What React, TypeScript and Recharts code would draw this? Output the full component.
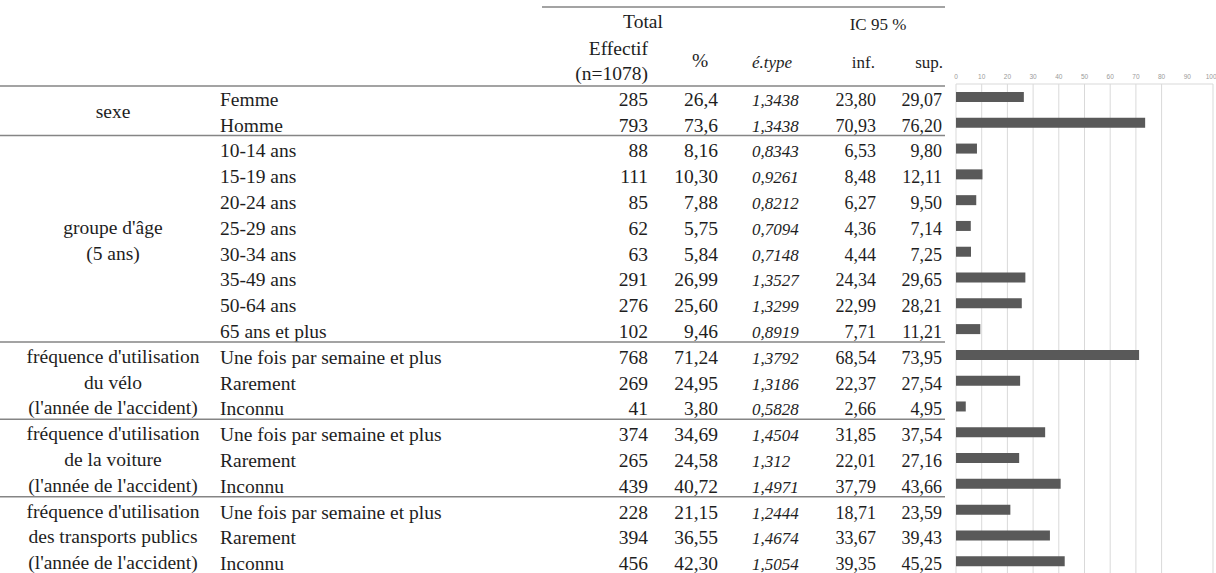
import React from 'react';
import { BarChart, Bar, XAxis, YAxis, CartesianGrid } from 'recharts';

// row labels (second column)
const rowLabels = [
  'Femme', 'Homme',
  '10-14 ans', '15-19 ans', '20-24 ans', '25-29 ans', '30-34 ans', '35-49 ans', '50-64 ans', '65 ans et plus',
  'Une fois par semaine et plus', 'Rarement', 'Inconnu',
  'Une fois par semaine et plus', 'Rarement', 'Inconnu',
  'Une fois par semaine et plus', 'Rarement', 'Inconnu',
];

// groups: label lines + number of rows
const groupLines = [
  ['sexe'],
  ["groupe d'âge", '(5 ans)'],
  ["fréquence d'utilisation", 'du vélo', "(l'année de l'accident)"],
  ["fréquence d'utilisation", 'de la voiture', "(l'année de l'accident)"],
  ["fréquence d'utilisation", 'des transports publics', "(l'année de l'accident)"],
];
const groupSizes = [2, 8, 3, 3, 3];

const effectifs = [285, 793, 88, 111, 85, 62, 63, 291, 276, 102, 768, 269, 41, 374, 265, 439, 228, 394, 456];
const pourcentages = ['26,4', '73,6', '8,16', '10,30', '7,88', '5,75', '5,84', '26,99', '25,60', '9,46', '71,24', '24,95', '3,80', '34,69', '24,58', '40,72', '21,15', '36,55', '42,30'];
const ecartsTypes = ['1,3438', '1,3438', '0,8343', '0,9261', '0,8212', '0,7094', '0,7148', '1,3527', '1,3299', '0,8919', '1,3792', '1,3186', '0,5828', '1,4504', '1,312', '1,4971', '1,2444', '1,4674', '1,5054'];
const icInf = ['23,80', '70,93', '6,53', '8,48', '6,27', '4,36', '4,44', '24,34', '22,99', '7,71', '68,54', '22,37', '2,66', '31,85', '22,01', '37,79', '18,71', '33,67', '39,35'];
const icSup = ['29,07', '76,20', '9,80', '12,11', '9,50', '7,14', '7,25', '29,65', '28,21', '11,21', '73,95', '27,54', '4,95', '37,54', '27,16', '43,66', '23,59', '39,43', '45,25'];

const xTicks = [0, 10, 20, 30, 40, 50, 60, 70, 80, 90, 100];

const data = rowLabels.map((label, i) => ({
  row: i,
  label,
  pct: parseFloat(pourcentages[i].replace(',', '.')),
}));

const FONT = '"Liberation Serif", "Times New Roman", serif';
const TEXT = '#1e1e1e';
const RULE = '#858585';
const TABLE_RIGHT = 945;

const PLOT_TOP = 84;
const CHART_H = 574;
const PITCH = (CHART_H - PLOT_TOP) / rowLabels.length;

// first row index of each group
const groupStarts = groupSizes.map((_, g) => groupSizes.slice(0, g).reduce((a, b) => a + b, 0));

const RowTick = (props: any) => {
  const { y, payload } = props;
  const i = Number(payload.value);
  const base = y + 9;
  const g = groupStarts.findIndex((s, k) => i >= s && i < s + groupSizes[k]);
  const isFirst = groupStarts[g] === i;
  const isLast = groupStarts[g] + groupSizes[g] - 1 === i;
  const lines = groupLines[g];
  const groupCenter = y + ((groupSizes[g] - 1) / 2) * PITCH;

  return (
    <g fontFamily={FONT} fontSize={19.5} fill={TEXT}>
      {isFirst &&
        lines.map((t, k) => (
          <text
            key={k}
            x={113}
            y={groupCenter + (k - (lines.length - 1) / 2) * PITCH + 8}
            textAnchor="middle"
          >
            {t}
          </text>
        ))}
      <text x={220} y={base}>{rowLabels[i]}</text>
      <text x={648} y={base} textAnchor="end">{effectifs[i]}</text>
      <text x={718} y={base} textAnchor="end">{pourcentages[i]}</text>
      <text x={752} y={base} fontStyle="italic" fontSize={17}>{ecartsTypes[i]}</text>
      <text x={876} y={base} textAnchor="end" fontSize={18}>{icInf[i]}</text>
      <text x={942} y={base} textAnchor="end" fontSize={18}>{icSup[i]}</text>
      {isLast && i < rowLabels.length - 1 && (
        <line x1={0} x2={TABLE_RIGHT} y1={y + PITCH / 2} y2={y + PITCH / 2} stroke={RULE} strokeWidth={1.5} />
      )}
    </g>
  );
};

const Header = () => (
  <svg width={1216} height={100} style={{ position: 'absolute', left: 0, top: 0 }}>
    <g fontFamily={FONT} fill={TEXT} fontSize={19.5}>
      <line x1={542} x2={TABLE_RIGHT} y1={7} y2={7} stroke={RULE} strokeWidth={1.5} />
      <text x={643} y={28} textAnchor="middle">Total</text>
      <text x={878} y={30} textAnchor="middle" fontSize={17}>IC 95 %</text>
      <text x={648} y={55} textAnchor="end">Effectif</text>
      <text x={648} y={80} textAnchor="end">(n=1078)</text>
      <text x={700} y={67} textAnchor="middle">%</text>
      <text x={752} y={68} fontStyle="italic" fontSize={17}>é.type</text>
      <text x={875} y={68} textAnchor="end" fontSize={17}>inf.</text>
      <text x={943} y={68} textAnchor="end" fontSize={17}>sup.</text>
      <line x1={0} x2={TABLE_RIGHT} y1={86} y2={86} stroke={RULE} strokeWidth={1.5} />
    </g>
  </svg>
);

export default function App() {
  return (
    <div
      style={{
        position: 'absolute',
        left: 0,
        top: 0,
        width: 1216,
        height: 573,
        overflow: 'hidden',
        background: '#fff',
      }}
    >
      <Header />
      <div style={{ position: 'absolute', left: 0, top: 0 }}>
        <BarChart
          width={1216}
          height={CHART_H}
          data={data}
          layout="vertical"
          margin={{ top: PLOT_TOP - 14, right: 3, left: 0, bottom: 0 }}
          barCategoryGap={0}
        >
          <CartesianGrid horizontal={false} stroke="#d9d9d9" />
          <XAxis
            type="number"
            orientation="top"
            domain={[0, 100]}
            ticks={xTicks}
            height={14}
            tickSize={0}
            tickMargin={5}
            tickLine={false}
            axisLine={{ stroke: '#d9d9d9' }}
            tick={{ fontSize: 6.5, fill: '#9a9a9a', fontFamily: 'Arial, sans-serif' }}
          />
          <YAxis
            type="category"
            dataKey="row"
            width={956}
            interval={0}
            tickLine={false}
            axisLine={false}
            tick={(p: any) => <RowTick {...p} />}
          />
          <Bar dataKey="pct" fill="#595959" barSize={10} isAnimationActive={false} />
        </BarChart>
      </div>
    </div>
  );
}
